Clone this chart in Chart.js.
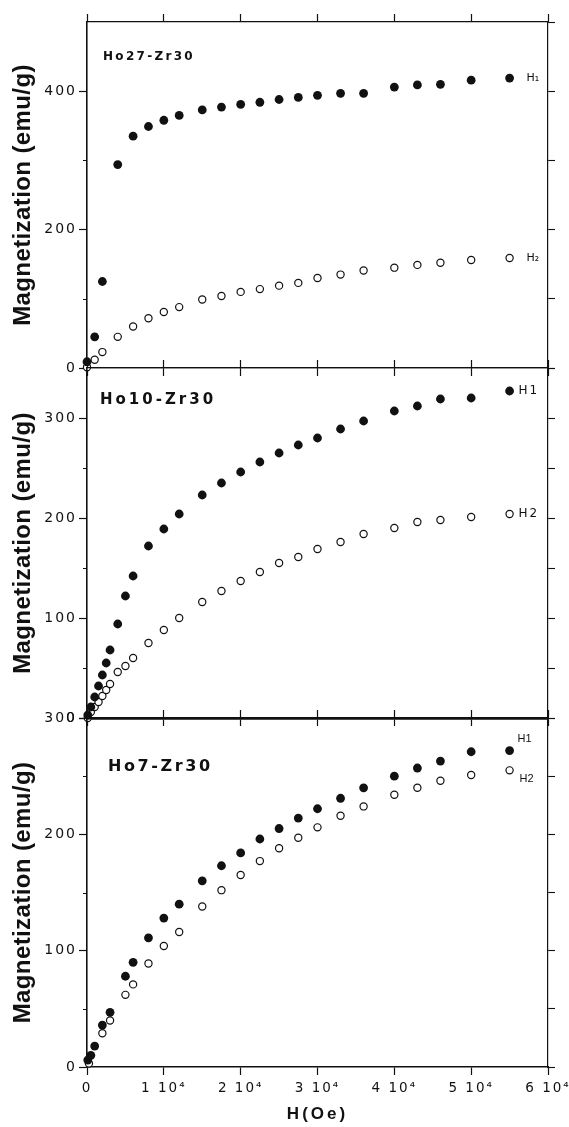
<!DOCTYPE html>
<html>
<head>
<meta charset="utf-8">
<script src="https://cdn.jsdelivr.net/npm/chart.js@4.4.1/dist/chart.umd.min.js"></script>
<style>
  html, body { margin: 0; padding: 0; background: #fff; }
  #wrap { position: relative; width: 569px; height: 1127px; }
  #wrap canvas { position: absolute; left: 0; top: 0; }
</style>
</head>
<body>
<div id="wrap">
  <canvas id="ho27" width="569" height="1127"></canvas>
  <canvas id="ho10" width="569" height="1127"></canvas>
  <canvas id="ho7" width="569" height="1127"></canvas>
</div>
<script>
// Magnetization vs applied field (H in Oe, M in emu/g)

// Ho27-Zr30
const ho27Field = [0, 1000, 2000, 4000, 6000, 8000, 10000, 12000, 15000, 17500, 20000,
  22500, 25000, 27500, 30000, 33000, 36000, 40000, 43000, 46000, 50000, 55000];
const ho27H1 = [9, 45, 125, 294, 335, 349, 358, 365, 373, 377, 381,
  384, 388, 391, 394, 397, 397, 406, 409, 410, 416, 419];
const ho27H2 = [1, 12, 23, 45, 60, 72, 81, 88, 99, 104, 110,
  114, 119, 123, 130, 135, 141, 145, 149, 152, 156, 159];

// Ho10-Zr30
const ho10Field = [100, 500, 1000, 1500, 2000, 2500, 3000, 4000, 5000, 6000, 8000, 10000, 12000,
  15000, 17500, 20000, 22500, 25000, 27500, 30000, 33000, 36000, 40000, 43000, 46000, 50000, 55000];
const ho10H1 = [3, 11, 21, 32, 43, 55, 68, 94, 122, 142, 172, 189, 204,
  223, 235, 246, 256, 265, 273, 280, 289, 297, 307, 312, 319, 320, 327];
const ho10H2 = [0, 6, 11, 16, 22, 28, 34, 46, 52, 60, 75, 88, 100,
  116, 127, 137, 146, 155, 161, 169, 176, 184, 190, 196, 198, 201, 204];

// Ho7-Zr30 (H2 was not measured at the same low fields)
const ho7Field = [100, 500, 1000, 2000, 3000, 5000, 6000, 8000, 10000, 12000, 15000, 17500,
  20000, 22500, 25000, 27500, 30000, 33000, 36000, 40000, 43000, 46000, 50000, 55000];
const ho7H1 = [6, 10, 18, 36, 47, 78, 90, 111, 128, 140, 160, 173,
  184, 196, 205, 214, 222, 231, 240, 250, 257, 263, 271, 272];
const ho7FieldH2 = [250, 2000, 3000, 5000, 6000, 8000, 10000, 12000, 15000, 17500,
  20000, 22500, 25000, 27500, 30000, 33000, 36000, 40000, 43000, 46000, 50000, 55000];
const ho7H2 = [3, 29, 40, 62, 71, 89, 104, 116, 138, 152,
  165, 177, 188, 197, 206, 216, 224, 234, 240, 246, 251, 255];

const xTickLabels = ["0", "1 10⁴", "2 10⁴", "3 10⁴", "4 10⁴", "5 10⁴", "6 10⁴"];

const INK = "#111";
const PAGE_H = 1127;

const toPoints = (xs, ys) => xs.map((x, i) => ({ x, y: ys[i] }));

// wrap a scale draw method so its text gets its own letter spacing
function spaced(fn, spacing) {
  return function () {
    const prev = this.ctx.letterSpacing;
    this.ctx.letterSpacing = spacing;
    fn.apply(this, arguments);
    this.ctx.letterSpacing = prev;
  };
}

const panelDecor = {
  id: "panelDecor",
  beforeDraw(chart, args, opts) {
    Object.values(chart.scales).forEach(s => {
      if (s._spaced) return;
      s.drawLabels = spaced(s.drawLabels, "2px");
      s.drawTitle = spaced(s.drawTitle, s.id === "x" ? "3px" : "0.4px");
      s._spaced = true;
    });
  },
  afterDraw(chart, args, opts) {
    const { ctx, chartArea, scales } = chart;
    const y = scales.y;
    ctx.save();
    ctx.strokeStyle = INK;
    ctx.fillStyle = INK;

    // short minor ticks on the left axis
    ctx.lineWidth = 1;
    for (let v = opts.yMinor; v < opts.yMax; v += opts.yMinor) {
      if (v % opts.yMajor === 0) continue;
      const py = Math.round(y.getPixelForValue(v)) + 0.5;
      ctx.beginPath();
      ctx.moveTo(chartArea.left - 4, py);
      ctx.lineTo(chartArea.left, py);
      ctx.stroke();
    }

    // sample name
    ctx.font = opts.nameFont;
    ctx.letterSpacing = opts.nameSpacing;
    ctx.textAlign = "left";
    ctx.textBaseline = "middle";
    ctx.fillText(opts.name, chartArea.left + opts.nameAt[0], chartArea.top + opts.nameAt[1]);

    // H1 / H2 labels next to the last point of each series
    ctx.font = opts.seriesFont;
    ctx.letterSpacing = opts.seriesSpacing;
    chart.data.datasets.forEach((ds, i) => {
      const last = ds.data[ds.data.length - 1];
      const lab = opts.series[i];
      const px = scales.x.getPixelForValue(last.x) + lab.dx;
      const py = y.getPixelForValue(last.y) + lab.dy;
      ctx.fillText(lab.text, px, py);
    });
    ctx.restore();
  }
};

function makePanel(id, p) {
  const fixSize = (w, h) => scale => {
    if (w != null) scale.width = w;
    if (h != null) scale.height = h;
    scale.paddingLeft = scale.paddingRight = scale.paddingTop = scale.paddingBottom = 0;
  };
  const xHeight = p.xTitle ? 60 : 10;

  return new Chart(document.getElementById(id), {
    type: "scatter",
    data: {
      datasets: [
        {
          label: "H1",
          data: toPoints(p.fieldH1, p.h1),
          pointStyle: "circle",
          pointRadius: 4.4,
          pointHoverRadius: 4.4,
          pointBackgroundColor: INK,
          pointBorderColor: INK,
          pointBorderWidth: 0,
          clip: false
        },
        {
          label: "H2",
          data: toPoints(p.fieldH2, p.h2),
          pointStyle: "circle",
          pointRadius: 3.6,
          pointHoverRadius: 3.6,
          pointBackgroundColor: "#fff",
          pointBorderColor: INK,
          pointBorderWidth: 1.2,
          clip: false
        }
      ]
    },
    options: {
      responsive: false,
      animation: false,
      devicePixelRatio: 1,
      events: [],
      layout: {
        padding: { left: 6, right: 6, top: p.top - 10, bottom: PAGE_H - p.bottom - xHeight }
      },
      plugins: {
        legend: { display: false },
        tooltip: { enabled: false },
        panelDecor: p.decor
      },
      scales: {
        x: {
          type: "linear",
          position: "bottom",
          min: 0,
          max: 60000,
          ticks: {
            stepSize: 10000,
            autoSkip: false,
            maxRotation: 0,
            padding: 5,
            color: INK,
            font: { family: "DejaVu Sans", size: 13.5 },
            callback: v => (p.xTitle ? xTickLabels[Math.round(v / 10000)] : "")
          },
          grid: { drawOnChartArea: false, tickLength: 8, tickColor: INK, tickWidth: 1.2 },
          border: { color: INK, width: p.bottomBorder },
          title: {
            display: !!p.xTitle,
            text: "H(Oe)",
            color: INK,
            font: { family: "Liberation Sans", size: 17, weight: "bold" },
            padding: { top: 0, bottom: 2 }
          },
          afterFit: fixSize(null, xHeight)
        },
        xTop: {
          type: "linear",
          position: "top",
          min: 0,
          max: 60000,
          ticks: { stepSize: 10000, callback: () => "" },
          grid: { drawOnChartArea: false, tickLength: 8, tickColor: INK, tickWidth: 1.2 },
          border: { color: INK, width: p.topBorder },
          afterFit: fixSize(null, 10)
        },
        y: {
          position: "left",
          min: 0,
          max: p.yMax,
          ticks: {
            stepSize: p.yMinor,
            padding: 2,
            color: INK,
            font: { family: "DejaVu Sans", size: 14 },
            callback: v => (v % p.yMajor === 0 ? String(v) : "")
          },
          grid: {
            drawOnChartArea: false,
            tickLength: 8,
            tickWidth: 1.2,
            tickColor: c => (c.tick && c.tick.value % p.yMajor === 0 ? INK : "rgba(0,0,0,0)")
          },
          border: { color: INK, width: 1.6 },
          title: {
            display: true,
            text: "Magnetization (emu/g)",
            color: INK,
            font: { family: "Liberation Sans", size: 24, weight: "bold" },
            padding: { top: 3, bottom: 0 }
          },
          afterFit: fixSize(81, null)
        },
        yRight: {
          position: "right",
          min: 0,
          max: p.yMax,
          ticks: { stepSize: p.rightStep, callback: () => "" },
          grid: { drawOnChartArea: false, tickLength: 7, tickColor: INK, tickWidth: 1.1 },
          border: { color: INK, width: 1.2 },
          afterFit: fixSize(15, null)
        }
      }
    },
    plugins: [panelDecor]
  });
}

makePanel("ho27", {
  top: 22, bottom: 368, yMax: 500, yMajor: 200, yMinor: 100, rightStep: 100,
  topBorder: 1.2, bottomBorder: 1.2,
  fieldH1: ho27Field, h1: ho27H1, fieldH2: ho27Field, h2: ho27H2,
  decor: {
    yMax: 500, yMajor: 200, yMinor: 100,
    name: "Ho27-Zr30", nameFont: "bold 12px 'DejaVu Sans'", nameSpacing: "2.3px", nameAt: [16, 35],
    seriesFont: "11px 'DejaVu Sans'", seriesSpacing: "0px",
    series: [{ text: "H₁", dx: 17, dy: 0 }, { text: "H₂", dx: 17, dy: 0 }]
  }
});

makePanel("ho10", {
  top: 368, bottom: 718, yMax: 350, yMajor: 100, yMinor: 50, rightStep: 50,
  topBorder: 1.2, bottomBorder: 2.5,
  fieldH1: ho10Field, h1: ho10H1, fieldH2: ho10Field, h2: ho10H2,
  decor: {
    yMax: 350, yMajor: 100, yMinor: 50,
    name: "Ho10-Zr30", nameFont: "bold 15px 'DejaVu Sans'", nameSpacing: "3px", nameAt: [13, 32],
    seriesFont: "12px 'DejaVu Sans'", seriesSpacing: "2px",
    series: [{ text: "H1", dx: 9, dy: 0 }, { text: "H2", dx: 9, dy: 0 }]
  }
});

makePanel("ho7", {
  top: 718, bottom: 1067, yMax: 300, yMajor: 100, yMinor: 50, rightStep: 50,
  topBorder: 2.5, bottomBorder: 1.5, xTitle: true,
  fieldH1: ho7Field, h1: ho7H1, fieldH2: ho7FieldH2, h2: ho7H2,
  decor: {
    yMax: 300, yMajor: 100, yMinor: 50,
    name: "Ho7-Zr30", nameFont: "bold 16px 'DejaVu Sans'", nameSpacing: "2.6px", nameAt: [21, 49],
    seriesFont: "11px 'Liberation Sans'", seriesSpacing: "0px",
    series: [{ text: "H1", dx: 8, dy: -12 }, { text: "H2", dx: 10, dy: 9 }]
  }
});
</script>
</body>
</html>
